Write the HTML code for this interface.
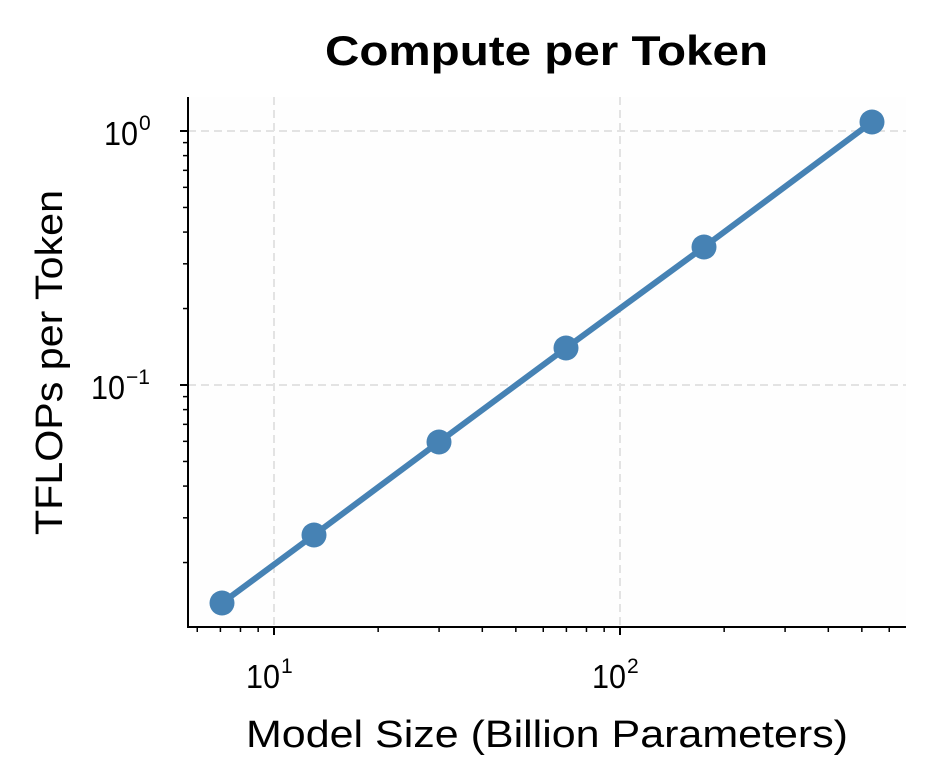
<!DOCTYPE html>
<html><head><meta charset="utf-8"><style>
html,body{margin:0;padding:0;background:#fff;}
svg{display:block;font-family:"Liberation Sans",sans-serif;}
</style></head><body>
<svg id="s" width="934" height="784" xmlns="http://www.w3.org/2000/svg">
<rect x="188" y="97" width="718" height="530" fill="#fefefe"/>
<g id="grid" stroke="#e3e3e3" stroke-width="2" stroke-dasharray="8,5">
<line x1="274" y1="97" x2="274" y2="627"/>
<line x1="620" y1="97" x2="620" y2="627"/>
<line x1="188" y1="131" x2="906" y2="131"/>
<line x1="188" y1="385" x2="906" y2="385"/>
</g>
<g id="ticks" stroke="#000"></g>
<polyline points="222,603 314,535 439,442 566,348 704,247 872,122" fill="none" stroke="#4682b4" stroke-width="6"/>
<g fill="#4682b4">
<circle cx="222" cy="603" r="12.5"/><circle cx="314" cy="535" r="12.5"/><circle cx="439" cy="442" r="12.5"/>
<circle cx="566" cy="348" r="12.5"/><circle cx="704" cy="247" r="12.5"/><circle cx="872" cy="122" r="12.5"/>
</g>
<line x1="188" y1="97" x2="188" y2="628" stroke="#000" stroke-width="2"/>
<line x1="187" y1="627" x2="906" y2="627" stroke="#000" stroke-width="2"/>
<text x="325" y="65" font-size="42" font-weight="bold" textLength="443" lengthAdjust="spacingAndGlyphs">Compute per Token</text>
<text x="246" y="747" font-size="38" textLength="602" lengthAdjust="spacingAndGlyphs">Model Size (Billion Parameters)</text>
<text transform="translate(62,535) rotate(-90)" font-size="38" textLength="345" lengthAdjust="spacingAndGlyphs">TFLOPs per Token</text>
<g font-size="33">
<text x="246" y="688" textLength="34" lengthAdjust="spacingAndGlyphs">10</text><text x="281" y="673" font-size="21">1</text>
<text x="592" y="688" textLength="34" lengthAdjust="spacingAndGlyphs">10</text><text x="627" y="673" font-size="21">2</text>
<text x="104" y="145" textLength="34" lengthAdjust="spacingAndGlyphs">10</text><text x="139" y="130" font-size="21">0</text>
<text x="91" y="399" textLength="34" lengthAdjust="spacingAndGlyphs">10</text><text x="126" y="384" font-size="21">−1</text>
</g>
</svg>
<script>
var g=document.getElementById('ticks'),h='';
function X(v){return 274+346*(Math.log10(v)-1);}
function Y(v){return 131-254*Math.log10(v);}
[10,100].forEach(function(v){var x=X(v);h+='<line x1="'+x+'" y1="627" x2="'+x+'" y2="635" stroke-width="2"/>';});
[6,7,8,9,20,30,40,50,60,70,80,90,200,300,400,500,600].forEach(function(v){var x=X(v);h+='<line x1="'+x+'" y1="627" x2="'+x+'" y2="632" stroke-width="1.5"/>';});
[1,0.1].forEach(function(v){var y=Y(v);h+='<line x1="180" y1="'+y+'" x2="188" y2="'+y+'" stroke-width="2"/>';});
[0.02,0.03,0.04,0.05,0.06,0.07,0.08,0.09,0.2,0.3,0.4,0.5,0.6,0.7,0.8,0.9].forEach(function(v){var y=Y(v);h+='<line x1="183" y1="'+y+'" x2="188" y2="'+y+'" stroke-width="1.5"/>';});
g.innerHTML=h;
</script>
</body></html>
